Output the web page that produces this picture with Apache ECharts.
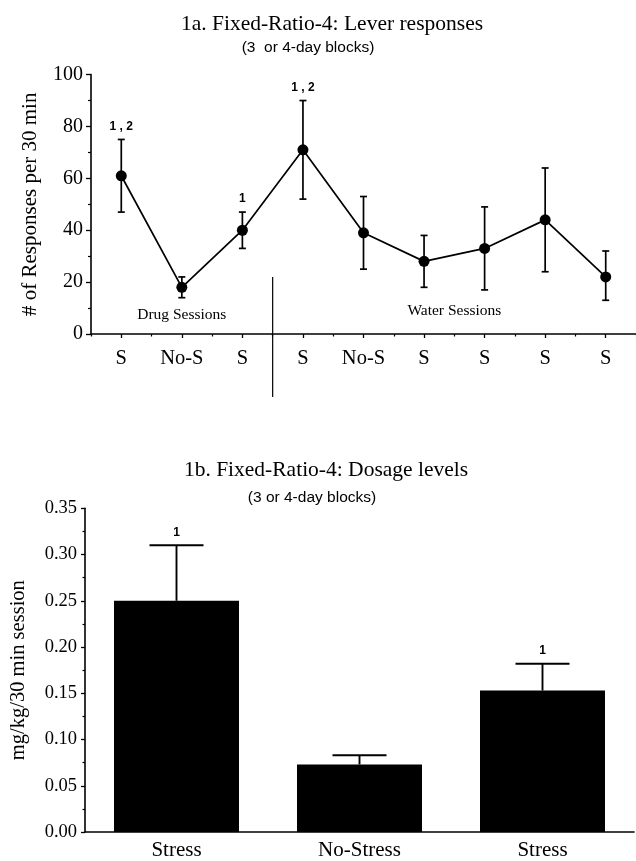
<!DOCTYPE html>
<html><head><meta charset="utf-8">
<script src="https://cdn.jsdelivr.net/npm/echarts@6/dist/echarts.min.js"></script>
<style>html,body{margin:0;padding:0;background:#fff}#c{width:636px;height:861px}</style>
</head><body><div id="c"></div>
<script>
// ---- Panel 1a data ----
const sessions = ['S', 'No-S', 'S', 'S', 'No-S', 'S', 'S', 'S', 'S'];
const responses = [61, 18, 40, 71, 39, 28, 33, 44, 22];
const respHigh = [75, 22, 47, 90, 53, 38, 49, 64, 32];
const respLow = [47, 14, 33, 52, 25, 18, 17, 24, 13];
const respNotes = ['1,2', '', '1', '1,2', '', '', '', '', ''];
const respTicks = [0, 20, 40, 60, 80, 100];
const phaseLabels = ['Drug Sessions', 'Water Sessions'];
const phaseFrom = [1, 5];
const phaseTo = [1, 6];
const phaseLevel = [7.4, 9];
const dividerBetween = [2, 3];
const dividerTop = 22;

// ---- Panel 1b data ----
const stressCats = ['Stress', 'No-Stress', 'Stress'];
const dosage = [0.25, 0.073, 0.153];
const dosageHigh = [0.31, 0.083, 0.182];
const dosageNotes = ['1', '', '1'];
const doseTicks = [0.00, 0.05, 0.10, 0.15, 0.20, 0.25, 0.30, 0.35];

const serif = 'Liberation Serif';
const sans = 'Liberation Sans';
const chart = echarts.init(document.getElementById('c'), null, {renderer: 'canvas'});

function errBarsTop(params, api) {
  const i = api.value(0);
  const hi = api.coord([i, api.value(1)]);
  const lo = api.coord([i, api.value(2)]);
  const note = respNotes[i];
  const w = 3.5;
  const st = {stroke: '#000', lineWidth: 1.7};
  const ch = [
    {type: 'line', shape: {x1: hi[0], y1: hi[1], x2: lo[0], y2: lo[1]}, style: st},
    {type: 'line', shape: {x1: hi[0] - w, y1: hi[1], x2: hi[0] + w, y2: hi[1]}, style: st},
    {type: 'line', shape: {x1: lo[0] - w, y1: lo[1], x2: lo[0] + w, y2: lo[1]}, style: st}
  ];
  if (note) ch.push({type: 'text', style: {x: hi[0], y: hi[1] - 13, text: note.replace(',', ' , '), font: 'bold 12px ' + sans, fill: '#000', align: 'center', verticalAlign: 'middle'}});
  return {type: 'group', children: ch};
}

function errBarsBottom(params, api) {
  const i = api.value(0);
  const top = api.coord([i, api.value(1)]);
  const hi = api.coord([i, api.value(2)]);
  const note = dosageNotes[i];
  const w = 27;
  const st = {stroke: '#000', lineWidth: 1.9};
  const ch = [
    {type: 'line', shape: {x1: hi[0], y1: hi[1], x2: top[0], y2: top[1]}, style: st},
    {type: 'line', shape: {x1: hi[0] - w, y1: hi[1], x2: hi[0] + w, y2: hi[1]}, style: st}
  ];
  if (note) ch.push({type: 'text', style: {x: hi[0], y: hi[1] - 13, text: note, font: 'bold 12px ' + sans, fill: '#000', align: 'center', verticalAlign: 'middle'}});
  return {type: 'group', children: ch};
}

function divider(params, api) {
  const a = api.coord([api.value(0), api.value(2)]);
  const b = api.coord([api.value(1), api.value(2)]);
  const base = api.coord([api.value(0), 0]);
  const x = (a[0] + b[0]) / 2;
  return {type: 'line', shape: {x1: x, y1: a[1], x2: x, y2: base[1] + 63}, style: {stroke: '#000', lineWidth: 1.2}};
}

function phaseText(params, api) {
  const a = api.coord([api.value(0), api.value(2)]);
  const b = api.coord([api.value(1), api.value(2)]);
  return {type: 'text', style: {x: (a[0] + b[0]) / 2, y: a[1], text: phaseLabels[params.dataIndex], font: '15.5px ' + serif, fill: '#000', align: 'center', verticalAlign: 'middle'}};
}

const axisLine = {show: true, lineStyle: {color: '#000', width: 1.6}};

chart.setOption({
  animation: false,
  backgroundColor: '#fff',
  title: [
    {text: '1a. Fixed-Ratio-4: Lever responses', left: 327, top: 8, textAlign: 'center', textStyle: {fontFamily: serif, fontSize: 21.5, fontWeight: 'normal', color: '#000'}},
    {text: '(3  or 4-day blocks)', left: 303, top: 35, textAlign: 'center', textStyle: {fontFamily: sans, fontSize: 15.5, fontWeight: 'normal', color: '#000'}},
    {text: '1b. Fixed-Ratio-4: Dosage levels', left: 321, top: 454, textAlign: 'center', textStyle: {fontFamily: serif, fontSize: 21.5, fontWeight: 'normal', color: '#000'}},
    {text: '(3 or 4-day blocks)', left: 307, top: 485, textAlign: 'center', textStyle: {fontFamily: sans, fontSize: 15.5, fontWeight: 'normal', color: '#000'}}
  ],
  grid: [
    {left: 91, right: 0, top: 74.6, bottom: 861 - 334, containLabel: false},
    {left: 85, right: 2, top: 508.3, bottom: 861 - 834.3, containLabel: false}
  ],
  xAxis: [
    {gridIndex: 0, type: 'category', data: sessions, position: 'bottom', axisLine: axisLine,
     axisTick: {show: true, alignWithLabel: true, length: 4, lineStyle: {color: '#000', width: 1.3}},
     axisLabel: {color: '#000', fontFamily: serif, fontSize: 20.5, margin: 14}},
    {gridIndex: 0, type: 'category', data: sessions, position: 'bottom', axisLine: {show: false},
     axisTick: {show: true, length: 2.5, lineStyle: {color: '#000', width: 1.2}}, axisLabel: {show: false}},
    {gridIndex: 1, type: 'category', data: stressCats, position: 'bottom', axisLine: axisLine,
     axisTick: {show: false}, axisLabel: {color: '#000', fontFamily: serif, fontSize: 21, margin: 8}}
  ],
  yAxis: [
    {gridIndex: 0, type: 'value', min: respTicks[0], max: respTicks[respTicks.length - 1], interval: respTicks[1] - respTicks[0],
     name: '# of Responses per 30 min', nameLocation: 'middle', nameRotate: 90, nameGap: 50,
     nameTextStyle: {fontFamily: serif, fontSize: 21, color: '#000'},
     axisLine: axisLine, splitLine: {show: false},
     axisTick: {show: true, length: 5, lineStyle: {color: '#000', width: 1.3}},
     minorTick: {show: true, splitNumber: 2, length: 3, lineStyle: {color: '#000', width: 1.2}},
     axisLabel: {color: '#000', fontFamily: serif, fontSize: 20, margin: 8}},
    {gridIndex: 1, type: 'value', min: doseTicks[0], max: doseTicks[doseTicks.length - 1], interval: 0.05,
     name: 'mg/kg/30 min session', nameLocation: 'middle', nameRotate: 90, nameGap: 56,
     nameTextStyle: {fontFamily: serif, fontSize: 20.5, color: '#000'},
     axisLine: axisLine, splitLine: {show: false},
     axisTick: {show: true, length: 4, lineStyle: {color: '#000', width: 1.3}},
     minorTick: {show: true, splitNumber: 2, length: 2.5, lineStyle: {color: '#000', width: 1.2}},
     axisLabel: {color: '#000', fontFamily: serif, fontSize: 18.5, margin: 8, formatter: v => v.toFixed(2)}}
  ],
  series: [
    {type: 'custom', xAxisIndex: 0, yAxisIndex: 0, renderItem: errBarsTop,
     data: sessions.map((s, i) => [i, respHigh[i], respLow[i]]), z: 2},
    {type: 'line', xAxisIndex: 0, yAxisIndex: 0, data: responses, symbol: 'circle', symbolSize: 11,
     itemStyle: {color: '#000'}, lineStyle: {color: '#000', width: 1.7}, z: 3},
    {type: 'custom', xAxisIndex: 0, yAxisIndex: 0, renderItem: divider, clip: false,
     data: [[dividerBetween[0], dividerBetween[1], dividerTop]]},
    {type: 'custom', xAxisIndex: 0, yAxisIndex: 0, renderItem: phaseText,
     data: phaseLabels.map((t, i) => [phaseFrom[i], phaseTo[i], phaseLevel[i]])},
    {type: 'bar', xAxisIndex: 2, yAxisIndex: 1, data: dosage, barWidth: 125, itemStyle: {color: '#000'}},
    {type: 'custom', xAxisIndex: 2, yAxisIndex: 1, renderItem: errBarsBottom,
     data: stressCats.map((s, i) => [i, dosage[i], dosageHigh[i]]), z: 3}
  ]
});
</script></body></html>
